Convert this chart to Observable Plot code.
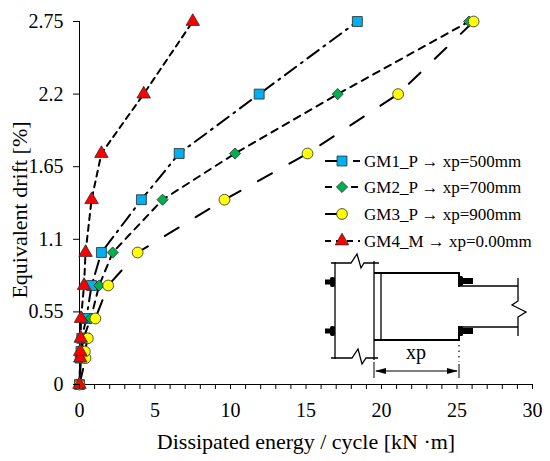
<!DOCTYPE html>
<html><head><meta charset="utf-8">
<script src="https://cdn.jsdelivr.net/npm/d3@7"></script>
<script src="https://cdn.jsdelivr.net/npm/@observablehq/plot@0.6"></script>
<style>
body{margin:0;background:#fff;}
#wrap{position:relative;width:550px;height:461px;}
#wrap svg{position:absolute;left:0;top:0;}
#wrap svg, #wrap svg text{font-family:"Liberation Serif","Times New Roman","DejaVu Serif",serif !important;}
</style></head><body><div id="wrap"></div>
<script>
// ---- data ----
const drift = [0, 0.2, 0.25, 0.35, 0.5, 0.75, 1.0, 1.4, 1.75, 2.2, 2.75];
const gm1Energy = [0, 0.05, 0.1, 0.15, 0.45, 0.8, 1.45, 4.1, 6.6, 11.9, 18.4];
const gm2Energy = [0, 0.1, 0.15, 0.25, 0.75, 1.3, 2.2, 5.5, 10.3, 17.1, 25.8];
const gm3Energy = [0, 0.4, 0.35, 0.55, 1.05, 1.9, 3.85, 9.6, 15.1, 21.1, 26.1];
const gm4Energy = [0, 0.05, 0.05, 0.08, 0.1, 0.3, 0.4, 0.8, 1.45, 4.25, 7.5];
const seriesNames = ["GM1_P \u2192 xp=500mm", "GM2_P \u2192 xp=700mm", "GM3_P \u2192 xp=900mm", "GM4_M \u2192 xp=0.00mm"];
const xTickValues = [0,1,2,3,4,5,6,7,8,9,10,11,12,13,14,15,16,17,18,19,20,21,22,23,24,25,26,27,28,29,30];
const xTickLabels = [0, 5, 10, 15, 20, 25, 30];
const yTickValues = [0, 0.55, 1.1, 1.65, 2.2, 2.75];
const xTitle = "Dissipated energy / cycle [kN \u00B7m]";
const yTitle = "Equivalent drift [%]";

// ---- styles ----
const colors = ["#00B0F0", "#00B050", "#FFFF00", "#FF0000"];
const symbols = ["square", "diamond2", "circle", "triangle"];
const radii = [5.6, 5.0, 5.4, 5.0];
const dashes = ["14,6,2,6", "7,6", "16,20", "6,5"];
const FONT = "'Liberation Serif', 'Times New Roman', 'DejaVu Serif', serif";

const energies = [gm1Energy, gm2Energy, gm3Energy, gm4Energy];
const series = energies.map((e, i) => e.map((x, j) => ({x, y: drift[j], s: i})));

const marks = [];
series.forEach((d, i) => marks.push(Plot.line(d, {x: "x", y: "y", stroke: "black", strokeWidth: 2, strokeDasharray: dashes[i]})));
marks.push(Plot.ruleX([0], {stroke: "black", strokeWidth: 1}));
marks.push(Plot.ruleY([0], {stroke: "black", strokeWidth: 1}));
series.forEach((d, i) => marks.push(Plot.dot(d, {x: "x", y: "y", symbol: () => symbols[i], r: radii[i], fill: colors[i], stroke: "#2a2a2a", strokeWidth: 0.8})));
marks.push(Plot.axisX({ticks: xTickValues, tickSize: 5, tickPadding: 13, fontSize: 20, label: null,
  tickFormat: d => xTickLabels.includes(d) ? String(d) : ""}));
marks.push(Plot.axisY({ticks: yTickValues, tickSize: 6, tickPadding: 10, fontSize: 20, label: null,
  tickFormat: d => String(d)}));
marks.push(Plot.text([xTitle], {frameAnchor: "bottom", lineAnchor: "bottom", dy: 64, fontSize: 22, text: d => d}));
marks.push(Plot.text([yTitle], {frameAnchor: "left", textAnchor: "middle", lineAnchor: "top", rotate: -90, dx: -68, dy: 7, fontSize: 22, text: d => d}));

const chart = Plot.plot({
  width: 550, height: 461,
  marginLeft: 79, marginRight: 18, marginTop: 21, marginBottom: 77,
  style: {fontFamily: FONT, background: "white", color: "black"},
  x: {domain: [0, 30]},
  y: {domain: [0, 2.75]},
  marks
});
document.getElementById("wrap").appendChild(chart);

// ---- overlay: legend + inset connection sketch ----
const ov = d3.select("#wrap").append("svg").attr("width", 550).attr("height", 461)
  .style("pointer-events", "none").style("font-family", FONT);

const legendRows = [161, 187, 214, 241];
const symMap = {square: d3.symbolSquare, diamond2: d3.symbolDiamond2, circle: d3.symbolCircle, triangle: d3.symbolTriangle};
seriesNames.forEach((name, i) => {
  const yy = legendRows[i];
  ov.append("line").attr("x1", 325).attr("x2", 360).attr("y1", yy).attr("y2", yy)
    .attr("stroke", "black").attr("stroke-width", 2).attr("stroke-dasharray", dashes[i]);
  ov.append("path").attr("transform", `translate(342,${yy})`)
    .attr("d", d3.symbol(symMap[symbols[i]], radii[i] * radii[i] * Math.PI)())
    .attr("fill", colors[i]).attr("stroke", "#2a2a2a").attr("stroke-width", 0.8);
  ov.append("text").attr("x", 364).attr("y", yy).attr("dy", "0.33em")
    .attr("font-size", 17).text(name);
});

const g = ov.append("g").attr("fill", "none").attr("stroke", "black");
const P = (d, w = 1.3) => g.append("path").attr("d", d).attr("stroke-width", w);
// column flanges
P("M335,262V359");
P("M374,261V360");
P("M331,263H351L357,254L361,268L364,263H379");
P("M331,358H352L358,349L362,364L366,358H378");
// end plate + beam flanges
P("M381,273V340");
P("M374,273H459V287", 2);
P("M374,340H459V326", 2);
// reduced beam
P("M459,286H518", 1.6);
P("M459,327H518", 1.6);
P("M518,278V301L512,305L526,312L518,317V336");
// dotted
g.append("path").attr("d", "M459,345V362").attr("stroke-width", 1.2).attr("stroke-dasharray", "1.5,4");
// dimension line
P("M374,362V378", 1);
P("M459,364V378", 1);
P("M376,371H457", 1);
const f = ov.append("g").attr("fill", "black");
f.append("path").attr("d", "M375,371L386,368L386,374Z");
f.append("path").attr("d", "M458,371L447,368L447,374Z");
// bolts left
[282, 331].forEach(yy => {
  f.append("rect").attr("x", 325).attr("y", yy - 2.5).attr("width", 6).attr("height", 5);
  f.append("rect").attr("x", 330).attr("y", yy - 5).attr("width", 5).attr("height", 10).attr("rx", 2);
});
// splice bolts right
[[278, 285], [328, 335]].forEach(([a, b]) => {
  f.append("rect").attr("x", 460).attr("y", a).attr("width", 13).attr("height", b - a - 1);
  f.append("rect").attr("x", 459).attr("y", a - 2).attr("width", 4).attr("height", b - a + 3).attr("rx", 1.5);
});
ov.append("text").attr("x", 416).attr("y", 359).attr("text-anchor", "middle").attr("font-size", 20).text("xp");
</script>
</body></html>
